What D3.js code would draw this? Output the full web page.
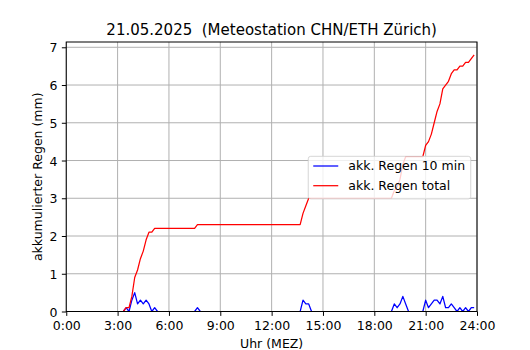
<!DOCTYPE html>
<html>
<head>
<meta charset="utf-8">
<script src="https://cdn.jsdelivr.net/npm/d3@7"></script>
<style>
  html, body { margin: 0; padding: 0; background: #fff; }
  svg { display: block; font-family: "DejaVu Sans", sans-serif; }
  text { white-space: pre; }
</style>
</head>
<body>
<svg id="chart" width="530" height="350"></svg>
<script>
// ---- data (10-minute steps, 00:00 .. 23:50), one row per hour ----
const title = "21.05.2025  (Meteostation CHN/ETH Zürich)";
const xLabel = "Uhr (MEZ)";
const yLabel = "akkumulierter Regen (mm)";
const seriesNames = ["akk. Regen 10 min", "akk. Regen total"];
const seriesColors = ["#0000ff", "#ff0000"];
const xTickHours = [0, 3, 6, 9, 12, 15, 18, 21, 24];
const xTickLabels = ["0:00", "3:00", "6:00", "9:00", "12:00", "15:00", "18:00", "21:00", "24:00"];
const yTicks = [0, 1, 2, 3, 4, 5, 6, 7];

const rain10 = [
  0,0,0,0,0,0,          // 00
  0,0,0,0,0,0,          // 01
  0,0,0,0,0,0,          // 02
  0,0,0,0.1,0,0.3,      // 03
  0.5,0.2,0.3,0.2,0.3,0.2, // 04
  0,0.1,0,0,0,0,        // 05
  0,0,0,0,0,0,          // 06
  0,0,0,0,0.1,0,        // 07
  0,0,0,0,0,0,          // 08
  0,0,0,0,0,0,          // 09
  0,0,0,0,0,0,          // 10
  0,0,0,0,0,0,          // 11
  0,0,0,0,0,0,          // 12
  0,0,0,0,0,0.3,        // 13
  0.2,0.2,0,0,0,0,      // 14
  0,0,0,0,0,0,          // 15
  0,0,0,0,0,0,          // 16
  0,0,0,0,0,0,          // 17
  0,0,0,0,0,0,          // 18
  0,0.2,0.1,0.2,0.4,0.2, // 19
  0,0,0,0,0,0,          // 20
  0.3,0.1,0.2,0.3,0.3,0.2, // 21
  0.4,0.1,0.1,0.2,0.1,0, // 22
  0.1,0,0.1,0,0.1,0.1   // 23
];

const rainTotal = [
  0,0,0,0,0,0,                // 00
  0,0,0,0,0,0,                // 01
  0,0,0,0,0,0,                // 02
  0,0,0,0.1,0.1,0.4,          // 03
  0.9,1.1,1.4,1.6,1.9,2.1,    // 04
  2.1,2.2,2.2,2.2,2.2,2.2,    // 05
  2.2,2.2,2.2,2.2,2.2,2.2,    // 06
  2.2,2.2,2.2,2.2,2.3,2.3,    // 07
  2.3,2.3,2.3,2.3,2.3,2.3,    // 08
  2.3,2.3,2.3,2.3,2.3,2.3,    // 09
  2.3,2.3,2.3,2.3,2.3,2.3,    // 10
  2.3,2.3,2.3,2.3,2.3,2.3,    // 11
  2.3,2.3,2.3,2.3,2.3,2.3,    // 12
  2.3,2.3,2.3,2.3,2.3,2.6,    // 13
  2.8,3.0,3.0,3.0,3.0,3.0,    // 14
  3.0,3.0,3.0,3.0,3.0,3.0,    // 15
  3.0,3.0,3.0,3.0,3.0,3.0,    // 16
  3.0,3.0,3.0,3.0,3.0,3.0,    // 17
  3.0,3.0,3.0,3.0,3.0,3.0,    // 18
  3.0,3.2,3.3,3.5,3.9,4.1,    // 19
  4.1,4.1,4.1,4.1,4.1,4.1,    // 20
  4.4,4.5,4.7,5.0,5.3,5.5,    // 21
  5.9,6.0,6.1,6.3,6.4,6.4,    // 22
  6.5,6.5,6.6,6.6,6.7,6.8     // 23
];

// ---- layout ----
const W = 530, H = 350;
const L = 66.25, R = 477, T = 42, B = 311.5;
const FS = 12.5;
const svg = d3.select("#chart");
svg.append("rect").attr("width", W).attr("height", H).attr("fill", "#fff");

const x = d3.scaleLinear().domain([0, 24]).range([L, R]);
const y = d3.scaleLinear().domain([0, 7.14]).range([B, T]);

svg.append("clipPath").attr("id", "clip")
  .append("rect").attr("x", L).attr("y", T).attr("width", R - L).attr("height", B - T);

// grid
const grid = svg.append("g");
xTickHours.forEach(h => grid.append("line")
  .attr("x1", x(h)).attr("x2", x(h)).attr("y1", T).attr("y2", B)
  .attr("stroke", "#b0b0b0").attr("stroke-width", 1));
yTicks.forEach(v => grid.append("line")
  .attr("x1", L).attr("x2", R).attr("y1", y(v)).attr("y2", y(v))
  .attr("stroke", "#b0b0b0").attr("stroke-width", 1));

// lines
const hourOf = i => i / 6;
const line = d3.line().x((d, i) => x(hourOf(i))).y(d => y(d));
const plot = svg.append("g").attr("clip-path", "url(#clip)");
[rain10, rainTotal].forEach((s, k) => {
  plot.append("path").datum(s)
    .attr("d", line)
    .attr("fill", "none")
    .attr("stroke", seriesColors[k])
    .attr("stroke-width", 1.25)
    .attr("stroke-linejoin", "round");
});

// axes
const xAxis = d3.axisBottom(x).tickValues(xTickHours)
  .tickFormat((d, i) => xTickLabels[i]).tickSize(4.4).tickPadding(4.4);
const yAxis = d3.axisLeft(y).tickValues(yTicks)
  .tickFormat(d3.format("d")).tickSize(4.4).tickPadding(4.4);

const gx = svg.append("g").attr("transform", `translate(0,${B})`).call(xAxis);
const gy = svg.append("g").attr("transform", `translate(${L},0)`).call(yAxis);
[gx, gy].forEach(g => {
  g.select(".domain").remove();
  g.selectAll(".tick line").attr("stroke", "#000").attr("stroke-width", 1);
  g.selectAll(".tick text").attr("fill", "#000")
    .style("font-family", "'DejaVu Sans'").style("font-size", FS + "px");
});
gx.selectAll(".tick text").attr("dy", null).attr("y", 18.3);
gy.selectAll(".tick text").attr("dy", null).attr("y", 4.5);

// spines
svg.append("rect").attr("x", L).attr("y", T).attr("width", R - L).attr("height", B - T)
  .attr("fill", "none").attr("stroke", "#000").attr("stroke-width", 1);

// title and labels
svg.append("text").attr("x", (L + R) / 2).attr("y", 34.5)
  .attr("text-anchor", "middle").style("font-size", "15px").attr("fill", "#000")
  .text(title);
svg.append("text").attr("x", (L + R) / 2).attr("y", 347.5)
  .attr("text-anchor", "middle").style("font-size", FS + "px").attr("fill", "#000")
  .text(xLabel);
svg.append("text")
  .attr("transform", `translate(41.5,${(T + B) / 2}) rotate(-90)`)
  .attr("text-anchor", "middle").style("font-size", FS + "px").attr("fill", "#000")
  .text(yLabel);

// legend (center right)
const lgX = 308.25, lgY = 156.3, lgW = 162.5, lgH = 42.6;
const lg = svg.append("g");
lg.append("rect").attr("x", lgX).attr("y", lgY).attr("width", lgW).attr("height", lgH)
  .attr("rx", 2.5).attr("ry", 2.5)
  .attr("fill", "#fff").attr("fill-opacity", 0.8)
  .attr("stroke", "#cccccc").attr("stroke-opacity", 0.8).attr("stroke-width", 1);
seriesNames.forEach((name, k) => {
  const cy = 166 + k * 19.7;
  lg.append("line").attr("x1", lgX + 5).attr("x2", lgX + 30)
    .attr("y1", cy).attr("y2", cy)
    .attr("stroke", seriesColors[k]).attr("stroke-width", 1.25);
  lg.append("text").attr("x", lgX + 40).attr("y", cy + 4.4)
    .style("font-size", FS + "px").attr("fill", "#000").text(name);
});
</script>
</body>
</html>
